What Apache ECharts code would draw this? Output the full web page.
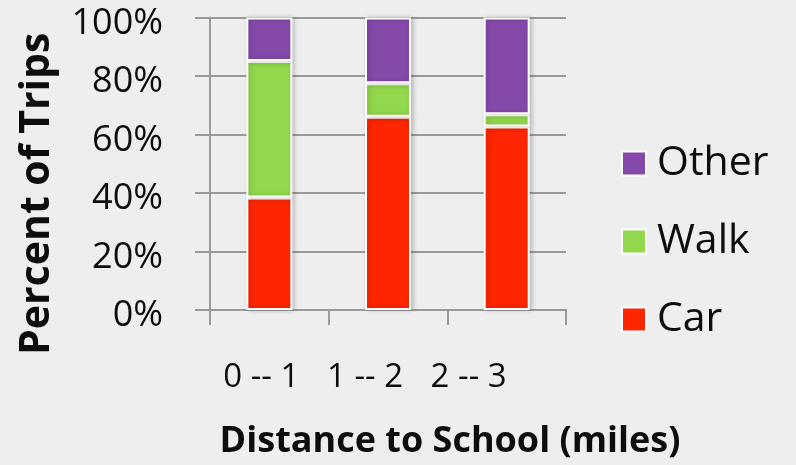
<!DOCTYPE html>
<html>
<head>
<meta charset="utf-8">
<script src="https://cdn.jsdelivr.net/npm/echarts@6/dist/echarts.min.js"></script>
<style>
  html, body { margin: 0; padding: 0; background: #eeeeee; }
  #chart { width: 796px; height: 465px; }
</style>
</head>
<body>
<div id="chart"></div>
<script>
// Mode of travel to school, by distance band (percent of trips)
const categories = ['0 -- 1', '1 -- 2', '2 -- 3'];
const carShare = [38.5, 66.1, 62.7];
const walkShare = [46.6, 11.4, 4.2];
const otherShare = [14.9, 22.5, 33.1];
const yTicks = [0, 20, 40, 60, 80, 100];

const colors = { car: '#ff2600', walk: '#92d84c', other: '#8549aa' };
const FONT = '"Open Sans", Lato, sans-serif';
const INK = '#0d0d0d';

const chart = echarts.init(document.getElementById('chart'), null, { renderer: 'canvas' });

function barSeries(name, data, color) {
  return {
    name: name,
    type: 'bar',
    stack: 'trips',
    data: data,
    barWidth: 46,
    itemStyle: {
      color: color,
      borderColor: '#ffffff',
      borderWidth: 2,
      shadowColor: 'rgba(0,0,0,0.22)',
      shadowBlur: 5,
      shadowOffsetX: 2,
      shadowOffsetY: 0
    },
    emphasis: { disabled: true }
  };
}

// per-label left nudges for the category labels
const labelKeys = ['a', 'b', 'c'];
const labelRich = {
  a: { fontSize: 33, fontFamily: FONT, color: INK, padding: [0, 16, 0, 0] },
  b: { fontSize: 33, fontFamily: FONT, color: INK, padding: [0, 46, 0, 0] },
  c: { fontSize: 33, fontFamily: FONT, color: INK, padding: [0, 76, 0, 0] }
};

chart.setOption({
  backgroundColor: '#eeeeee',
  animation: false,
  grid: { left: 210, right: 230, top: 17.5, bottom: 155, outerBoundsMode: 'none' },
  legend: {
    orient: 'vertical',
    left: 616,
    top: 138,
    icon: 'rect',
    itemWidth: 24,
    itemHeight: 24,
    itemGap: 37,
    data: ['Other', 'Walk', 'Car'],
    itemStyle: { borderColor: '#ffffff', borderWidth: 2 },
    textStyle: { fontSize: 41, fontFamily: FONT, color: INK, padding: [0, 0, 0, 6] },
    selectedMode: false
  },
  xAxis: {
    type: 'category',
    data: categories,
    boundaryGap: true,
    axisLine: { show: true, lineStyle: { color: '#9a9a9a', width: 2 } },
    axisTick: { show: true, length: 15, alignWithLabel: false, lineStyle: { color: '#9a9a9a', width: 2 } },
    axisLabel: {
      margin: 51,
      formatter: function (value, idx) { return '{' + labelKeys[idx] + '|' + value + '}'; },
      rich: labelRich
    },
    name: 'Distance to School (miles)',
    nameLocation: 'middle',
    nameGap: 114,
    nameTextStyle: {
      fontSize: 36, fontWeight: 'bold', fontFamily: FONT, color: INK,
      padding: [0, 0, 0, 124]
    }
  },
  yAxis: {
    type: 'value',
    min: 0,
    max: 100,
    interval: 20,
    axisLine: { show: true, lineStyle: { color: '#9a9a9a', width: 2 } },
    axisTick: { show: true, length: 15, lineStyle: { color: '#9a9a9a', width: 2 } },
    splitLine: { show: true, lineStyle: { color: '#9a9a9a', width: 2 } },
    axisLabel: {
      margin: 47,
      formatter: function (v) { return yTicks.indexOf(v) >= 0 ? '{v|' + v + '%}' : ''; },
      rich: {
        v: { fontSize: 36, fontFamily: FONT, color: INK, padding: [12, 0, 0, 0] }
      }
    },
    name: 'Percent of Trips',
    nameLocation: 'middle',
    nameRotate: 90,
    nameGap: 152,
    nameTextStyle: {
      fontSize: 41, fontWeight: 'bold', fontFamily: FONT, color: INK,
      padding: [0, 60, 0, 0]
    }
  },
  series: [
    barSeries('Car', carShare, colors.car),
    barSeries('Walk', walkShare, colors.walk),
    barSeries('Other', otherShare, colors.other)
  ]
});
</script>
</body>
</html>
